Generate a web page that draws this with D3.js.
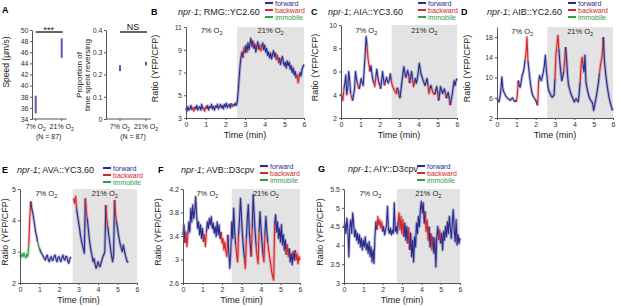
<!DOCTYPE html>
<html>
<head>
<meta charset="utf-8">
<script src="https://cdn.jsdelivr.net/npm/d3@7"></script>
<style>
  body { margin: 0; background: #fff; }
  svg { font-family: "Liberation Sans", Arial, sans-serif; }
</style>
</head>
<body>
<svg id="fig" width="617" height="306"></svg>
<script>
// ---------- data ----------
const conditions = ['7%', '21%'];
const speedLow = [35.0, 45.0];
const speedHigh = [38.2, 48.5];
const reversalLow = [0.215, 0.240];
const reversalHigh = [0.242, 0.257];
const speedTicks = [34, 36, 38, 40, 42, 44, 46, 48, 50];
const reversalTicks = [0, 0.1, 0.2, 0.3, 0.4];

const timeTicks = [0, 1, 2, 3, 4, 5, 6];
const sampleStep = 0.05; // minutes between samples of the traces below
const o2ShiftMin = [2.6, 2.62, 2.6, 2.7, 2.5, 2.72]; // B..G, time of 7% -> 21% switch

// one row = one minute
const rmgRatio = [
  3.9,3.6,4.0,3.7,3.8,4.1,3.7,3.9,3.6,4.0,3.8,4.1,3.7,3.9,4.0,3.7,4.2,3.8,3.9,3.6,
  4.0,3.8,4.1,3.7,4.0,3.9,4.2,3.8,4.0,3.7,4.1,3.9,4.2,3.8,4.0,4.2,3.9,4.1,3.8,4.2,
  4.0,4.3,3.9,4.1,4.2,3.9,4.3,4.0,4.2,4.1,4.3,4.1,4.4,5.3,6.5,7.6,8.4,8.8,8.3,9.2,
  8.7,9.4,8.8,9.6,9.0,9.5,10.0,9.3,9.8,9.1,9.5,8.8,9.3,9.7,9.0,9.4,8.9,9.3,9.6,9.0,
  9.4,8.8,9.1,8.5,8.8,8.3,8.7,8.2,8.6,8.9,8.4,8.7,8.1,8.5,7.9,8.3,7.7,8.1,8.4,7.9,
  7.6,7.9,7.4,8.0,7.6,7.9,7.3,7.6,7.0,7.4,6.8,7.1,6.5,6.8,6.1,6.6,7.0,6.7,7.3,7.5,
  7.7
];
const rmgBack = [[0.3,0.45],[0.9,1.05],[1.5,1.55],[2.3,2.4],[2.9,3.0],[3.4,3.45],[3.7,3.85],[4.6,4.75],[5.6,5.75]];

const aiaRatio = [
  4.1,3.8,3.5,4.5,5.0,5.7,4.0,4.6,6.0,5.2,4.1,3.8,3.5,4.0,4.5,6.0,5.4,5.0,4.6,4.5,
  5.0,5.4,5.0,4.8,6.2,7.5,9.0,8.2,7.1,6.5,6.0,6.5,5.8,5.3,5.0,4.7,5.5,6.2,5.6,5.1,
  4.8,4.5,5.2,6.0,5.3,4.8,5.1,5.5,5.2,5.0,5.3,5.8,5.2,4.8,4.6,4.4,4.3,4.1,4.6,4.4,
  4.0,3.7,4.4,5.1,5.8,6.4,5.9,5.5,5.8,6.1,5.6,5.0,5.5,6.0,5.3,4.7,5.0,5.4,5.0,5.4,
  6.0,6.7,6.2,5.7,5.5,5.2,5.0,4.8,5.1,5.4,4.8,4.1,4.5,4.8,4.5,4.2,4.1,4.0,4.4,4.7,
  4.1,3.5,4.1,4.7,4.4,4.1,4.3,4.5,4.1,3.7,4.0,4.2,3.6,3.1,3.6,4.0,4.6,5.2,4.8,5.2,
  5.4
];
const aiaBack = [[0.05,0.15],[0.5,0.6],[0.85,0.95],[1.35,1.5],[1.7,1.8],[2.0,2.05],[2.25,2.3],[2.6,2.9],
  [3.0,3.05],[3.5,3.55],[3.7,3.8],[4.5,4.6],[4.7,4.85],[5.0,5.05],[5.4,5.45],[5.6,5.65]];

const aibRatio = [
  5.8,5.5,5.2,6.1,7.5,10.1,7.8,7.2,6.8,6.4,6.1,5.9,5.8,5.6,5.5,5.8,6.0,5.6,5.3,5.4,
  5.2,6.5,9.4,8.4,8.1,9.2,10.4,11.0,11.7,13.5,14.7,18.0,13.4,11.5,9.8,8.3,7.1,6.5,6.1,5.8,
  5.5,5.0,4.5,9.0,10.4,9.8,9.4,10.3,11.1,12.4,14.4,11.7,9.5,7.8,7.2,6.8,6.4,6.1,6.3,6.5,
  9.8,14.7,16.3,18.3,15.7,13.0,11.1,9.4,10.2,11.1,13.5,16.0,13.7,10.5,8.5,7.8,7.1,6.5,6.1,5.6,
  5.2,5.6,5.8,5.4,5.2,6.8,9.1,12.4,14.0,12.5,11.1,14.4,9.1,8.0,7.1,6.4,5.8,5.5,5.2,4.8,
  3.5,4.5,5.5,6.5,7.8,9.1,10.8,12.4,13.5,14.7,18.0,13.7,11.5,9.8,8.3,7.1,6.0,5.2,4.5,3.8,
  3.5
];
const aibBack = [[1.0,1.1],[1.45,1.6],[2.1,2.15],[3.0,3.2],[3.45,3.55],[4.3,4.45],[5.3,5.5]];

const avaRatio = [
  2.89,2.82,2.93,2.84,2.95,2.86,2.80,2.92,2.85,3.20,4.06,4.60,4.40,4.25,4.06,3.85,3.64,3.50,3.32,3.20,
  3.10,3.02,2.95,2.90,2.84,2.78,2.73,2.85,2.89,2.75,2.68,2.78,2.84,2.72,2.73,2.86,2.89,2.76,2.68,2.80,
  2.84,2.74,2.68,2.80,2.89,2.77,2.73,2.85,2.84,2.70,2.63,2.76,2.84,null,null,4.70,4.55,4.76,4.38,4.15,
  3.96,3.75,3.53,3.35,3.21,3.08,2.95,4.70,4.30,4.06,3.75,3.43,3.20,3.00,2.85,2.68,2.78,2.60,2.47,2.55,
  2.68,2.58,2.52,2.62,2.73,2.85,2.90,3.00,4.49,4.06,3.80,3.53,3.30,3.05,2.85,2.68,2.90,4.65,4.20,3.96,
  3.75,3.53,3.35,3.21,3.10,3.00,3.21,3.05,2.89,2.78,2.68,2.65
];
const avaBack = [[0.42,0.55],[2.75,2.9],[3.35,3.45],[4.4,4.5],[4.85,4.95]];
const avaIdle = [[0,0.42],[0.9,1.0]];

const avbRatio = [
  3.42,3.59,3.28,3.47,3.22,3.42,3.64,3.47,3.87,3.64,3.93,3.70,3.81,4.07,3.76,3.53,3.64,3.42,3.59,3.36,
  3.53,3.30,3.42,3.22,3.47,3.64,3.53,3.70,3.59,3.73,3.53,3.62,3.45,3.56,3.39,3.64,3.42,3.59,3.36,3.47,
  3.28,3.36,3.16,3.30,3.13,3.05,3.42,3.13,2.85,3.13,3.64,3.36,3.87,3.47,3.25,3.10,2.96,3.42,3.70,4.04,
  3.70,3.42,3.19,3.02,2.85,3.36,3.70,3.93,3.47,3.25,3.05,3.53,4.10,3.76,3.47,3.22,3.05,2.93,3.47,3.81,
  3.53,3.30,3.08,2.96,3.42,3.73,3.47,3.28,3.13,3.02,2.91,2.79,2.71,2.65,3.59,3.76,3.47,3.64,3.36,3.53,
  3.30,3.59,3.25,3.42,3.16,3.33,3.08,3.25,3.05,3.19,2.96,3.10,2.91,3.13,2.99,3.16,2.99,3.10,2.93,3.05,
  2.99
];
const avbBack = [[0.1,0.25],[1.05,1.2],[1.95,2.3],[2.7,2.85],[3.15,3.25],[3.5,3.55],[3.75,3.9],[4.1,4.2],[4.35,4.7],[5.3,5.45],[5.75,6.0]];

const aiyRatio = [
  4.46,4.59,4.32,4.72,4.41,3.70,4.50,4.68,4.32,4.86,4.59,4.23,4.41,4.14,4.32,4.05,4.28,3.96,4.19,3.88,
  4.14,3.96,4.23,3.88,4.05,3.79,4.10,3.70,3.96,3.56,3.88,3.52,4.23,4.63,4.41,4.77,4.54,4.68,4.46,4.63,
  4.37,4.50,4.28,4.41,4.54,5.04,4.41,4.32,4.46,4.28,4.41,4.32,5.13,4.37,4.50,4.32,4.63,4.86,4.41,4.77,
  4.32,4.68,4.23,4.59,4.14,4.50,4.05,4.46,3.88,4.32,3.70,4.14,3.56,4.23,3.96,4.59,4.32,4.77,4.50,4.95,
  5.17,4.86,5.13,4.59,4.90,4.37,4.68,4.14,4.50,3.96,4.32,3.88,4.23,3.79,4.19,3.43,4.23,4.50,4.14,4.41,
  4.05,4.32,3.88,4.37,4.14,4.50,4.23,4.63,4.32,4.77,4.46,4.19,4.59,4.95,4.41,4.10,4.68,4.01,4.28,4.05,
  4.20
];
const aiyBack = [[1.7,2.0],[2.8,3.1],[3.3,3.4],[4.2,4.4],[4.5,4.6],[4.9,5.0]];

const rmgTicks = [3, 5, 7, 9, 11];
const aiaTicks = [2, 4, 6, 8, 10];
const aibTicks = [2, 6, 10, 14, 18];
const avaTicks = [2, 3, 4, 5];
const avbTicks = [2.6, 3, 3.4, 3.8, 4.2];
const aiyTicks = [3, 3.5, 4, 4.5, 5, 5.5];

// ---------- styles ----------
const colForward = '#2c2c8c';
const colBack = '#d8262c';
const colIdle = '#2f9e48';
const colShade = '#e3e3e3';
const colAxis = '#555';

const svg = d3.select('#fig');

// O2 label with subscript 2
function o2Label(g, x, y, pct, size) {
  const t = g.append('text')
    .attr('x', x).attr('y', y)
    .attr('text-anchor', 'middle')
    .style('font-size', size + 'px')
    .style('fill', '#222');
  t.append('tspan').text(pct + ' O');
  t.append('tspan').attr('dy', 2).style('font-size', (size - 2) + 'px').text('2');
  return t;
}

function styleAxis(sel) {
  sel.selectAll('path.domain').attr('stroke', colAxis);
  sel.selectAll('.tick line').attr('stroke', colAxis);
  sel.selectAll('.tick text').style('font-size', '7px').style('fill', '#333').style('font-family', '"Liberation Sans", Arial, sans-serif');
}

// ---------- panel A ----------
svg.append('text').attr('x', 2).attr('y', 13).style('font-weight', 'bold').style('font-size', '9px').text('A');

function drawRangePlot(opts) {
  const g = svg.append('g');
  const y = d3.scaleLinear().domain(opts.domain).range([119, 30]);
  const x = d3.scalePoint().domain(conditions).range(opts.xRange);

  g.append('g')
    .attr('transform', `translate(${opts.axisX},0)`)
    .call(d3.axisLeft(y).tickValues(opts.ticks).tickSize(2).tickSizeOuter(0).tickPadding(1.5).tickFormat(opts.fmt))
    .call(styleAxis);

  const xa = g.append('g')
    .attr('transform', 'translate(0,119)');
  xa.append('line').attr('x1', opts.axisX).attr('x2', opts.xRange[1] + 5).attr('stroke', colAxis);
  xa.selectAll('line.tk').data(conditions).join('line')
    .attr('x1', d => x(d)).attr('x2', d => x(d)).attr('y1', 0).attr('y2', 2).attr('stroke', colAxis);

  conditions.forEach((c, i) => {
    g.append('line')
      .attr('x1', x(c)).attr('x2', x(c))
      .attr('y1', y(opts.low[i])).attr('y2', y(opts.high[i]))
      .attr('stroke', '#5959b3').attr('stroke-width', 2);
    o2Label(g, x(c), 129, c, 7);
  });
  g.append('text').attr('x', (x(conditions[0]) + x(conditions[1])) / 2).attr('y', 139)
    .attr('text-anchor', 'middle').style('font-size', '7px').style('fill', '#222').text('(N = 87)');

  // significance bar
  g.append('line').attr('x1', x(conditions[0])).attr('x2', x(conditions[1]) + 1)
    .attr('y1', 32).attr('y2', 32).attr('stroke', '#111').attr('stroke-width', 1.3);
  g.append('text').attr('x', (x(conditions[0]) + x(conditions[1])) / 2).attr('y', opts.sigY)
    .attr('text-anchor', 'middle').style('font-size', opts.sigSize + 'px').style('fill', '#111')
    .text(opts.sig);
  return g;
}

drawRangePlot({ domain: [34, 50], ticks: speedTicks, xRange: [35.7, 61.7], axisX: 32,
  low: speedLow, high: speedHigh, fmt: d3.format('d'), sig: '***', sigY: 33, sigSize: 9 });
drawRangePlot({ domain: [0, 0.4], ticks: reversalTicks, xRange: [120, 146], axisX: 106,
  low: reversalLow, high: reversalHigh, fmt: d => d === 0 ? '0' : d3.format('.1f')(d), sig: 'NS', sigY: 30, sigSize: 9 });

svg.append('text').attr('transform', 'translate(9,62) rotate(-90)')
  .attr('text-anchor', 'middle').style('font-size', '8.5px').style('fill', '#222').text('Speed (\u00b5m/s)');
svg.append('text').attr('transform', 'translate(82,75) rotate(-90)')
  .attr('text-anchor', 'middle').style('font-size', '8px').style('fill', '#222').text('Proportion of');
svg.append('text').attr('transform', 'translate(90,75) rotate(-90)')
  .attr('text-anchor', 'middle').style('font-size', '8px').style('fill', '#222').text('time spent reversing');

// ---------- trace panels B-G ----------
const panels = [
  { letter: 'B', reporter: 'RMG::YC2.60', ratio: rmgRatio, back: rmgBack, idle: [], shift: o2ShiftMin[0],
    yDomain: [3, 11], ticks: rmgTicks, left: 186, right: 304, top: 27, bottom: 118,
    letterX: 151, titleX: 178, titleY: 15, legX: 265, legY: 3, ylabX: 158, o2Y: 33 },
  { letter: 'C', reporter: 'AIA::YC3.60', ratio: aiaRatio, back: aiaBack, idle: [], shift: o2ShiftMin[1],
    yDomain: [2, 10], ticks: aiaTicks, left: 341, right: 457, top: 25, bottom: 118,
    letterX: 311, titleX: 328, titleY: 15, legX: 418, legY: 3, ylabX: 318, o2Y: 33 },
  { letter: 'D', reporter: 'AIB::YC2.60', ratio: aibRatio, back: aibBack, idle: [], shift: o2ShiftMin[2],
    yDomain: [2, 20], ticks: aibTicks, left: 497, right: 613, top: 27, bottom: 118,
    letterX: 461, titleX: 487, titleY: 15, legX: 568, legY: 3, ylabX: 470, o2Y: 34 },
  { letter: 'E', reporter: 'AVA::YC3.60', ratio: avaRatio, back: avaBack, idle: avaIdle, shift: o2ShiftMin[3],
    yDomain: [2, 5], ticks: avaTicks, left: 20, right: 137, top: 189, bottom: 283,
    letterX: 2, titleX: 17, titleY: 173, legX: 103, legY: 168, ylabX: 8, o2Y: 196 },
  { letter: 'F', reporter: 'AVB::D3cpv', ratio: avbRatio, back: avbBack, idle: [], shift: o2ShiftMin[4],
    yDomain: [2.6, 4.2], ticks: avbTicks, left: 183, right: 300, top: 189, bottom: 283,
    letterX: 158, titleX: 181, titleY: 173, legX: 260, legY: 166, ylabX: 161, o2Y: 196 },
  { letter: 'G', reporter: 'AIY::D3cpv', ratio: aiyRatio, back: aiyBack, idle: [], shift: o2ShiftMin[5],
    yDomain: [3, 5.5], ticks: aiyTicks, left: 344, right: 460, top: 189, bottom: 283,
    letterX: 318, titleX: 348, titleY: 172, legX: 417, legY: 166, ylabX: 323, o2Y: 196 }
];

const inAny = (ranges, t) => ranges.some(([a, b]) => t >= a - 1e-6 && t < b - 1e-6);

panels.forEach(p => {
  const g = svg.append('g');
  const x = d3.scaleLinear().domain([0, 6]).range([p.left, p.right]);
  const y = d3.scaleLinear().domain(p.yDomain).range([p.bottom, p.top]);

  // 21% O2 shading
  g.append('rect')
    .attr('x', x(p.shift)).attr('y', p.top)
    .attr('width', x(6) - x(p.shift)).attr('height', p.bottom - p.top)
    .attr('fill', colShade);

  o2Label(g, (x(0) + x(p.shift)) / 2, p.o2Y, '7%', 7.5);
  o2Label(g, (x(p.shift) + x(6)) / 2, p.o2Y, '21%', 7.5);

  // trace split into runs of the same behavioural state
  const pts = p.ratio.map((v, i) => ({ t: i * sampleStep, v }));
  const stateAt = t => inAny(p.idle, t) ? 'i' : inAny(p.back, t) ? 'b' : 'f';
  const runs = [];
  let cur = null;
  for (let i = 0; i < pts.length - 1; i++) {
    const a = pts[i], b = pts[i + 1];
    if (a.v == null || b.v == null) { cur = null; continue; }
    const s = stateAt(a.t);
    if (!cur || cur.s !== s) { cur = { s, pts: [a] }; runs.push(cur); }
    cur.pts.push(b);
  }
  const colOf = s => s === 'b' ? colBack : s === 'i' ? colIdle : colForward;
  const line = d3.line().x(d => x(d.t)).y(d => y(d.v));
  const tr = g.append('g').attr('fill', 'none').attr('stroke-linejoin', 'round');
  tr.selectAll('path.band').data(runs).join('path')
    .attr('class', 'band').attr('d', d => line(d.pts))
    .attr('stroke', d => colOf(d.s)).attr('stroke-width', 3).attr('stroke-opacity', 0.3);
  tr.selectAll('path.core').data(runs).join('path')
    .attr('class', 'core').attr('d', d => line(d.pts))
    .attr('stroke', d => colOf(d.s)).attr('stroke-width', 1.1);

  // axes
  g.append('g').attr('transform', `translate(${p.left},0)`)
    .call(d3.axisLeft(y).tickValues(p.ticks).tickSize(2).tickSizeOuter(0).tickPadding(2).tickFormat(d3.format('')))
    .call(styleAxis);
  g.append('g').attr('transform', `translate(0,${p.bottom})`)
    .call(d3.axisBottom(x).tickValues(timeTicks).tickSize(2).tickSizeOuter(0).tickPadding(2).tickFormat(d3.format('d')))
    .call(styleAxis);

  g.append('text').attr('x', (p.left + p.right) / 2).attr('y', p.bottom + 20)
    .attr('text-anchor', 'middle').style('font-size', '9px').style('fill', '#222').text('Time (min)');
  g.append('text').attr('transform', `translate(${p.ylabX},${(p.top + p.bottom) / 2 - 4}) rotate(-90)`)
    .attr('text-anchor', 'middle').style('font-size', '9px').style('fill', '#222').text('Ratio (YFP/CFP)');

  // panel letter + title
  g.append('text').attr('x', p.letterX).attr('y', p.titleY)
    .style('font-weight', 'bold').style('font-size', '9px').text(p.letter);
  const title = g.append('text').attr('x', p.titleX).attr('y', p.titleY)
    .style('font-size', '9px').style('fill', '#222');
  title.append('tspan').style('font-style', 'italic').text('npr-1');
  title.append('tspan').text('; ' + p.reporter);

  // legend
  const legend = [['forward', colForward], ['backward', colBack], ['immobile', colIdle]];
  legend.forEach(([name, c], i) => {
    const ly = p.legY + i * 7;
    g.append('line').attr('x1', p.legX).attr('x2', p.legX + 8).attr('y1', ly).attr('y2', ly)
      .attr('stroke', c).attr('stroke-width', 2);
    g.append('text').attr('x', p.legX + 10).attr('y', ly + 2.5)
      .style('font-size', '7px').style('fill', c).text(name);
  });
});
</script>
</body>
</html>
